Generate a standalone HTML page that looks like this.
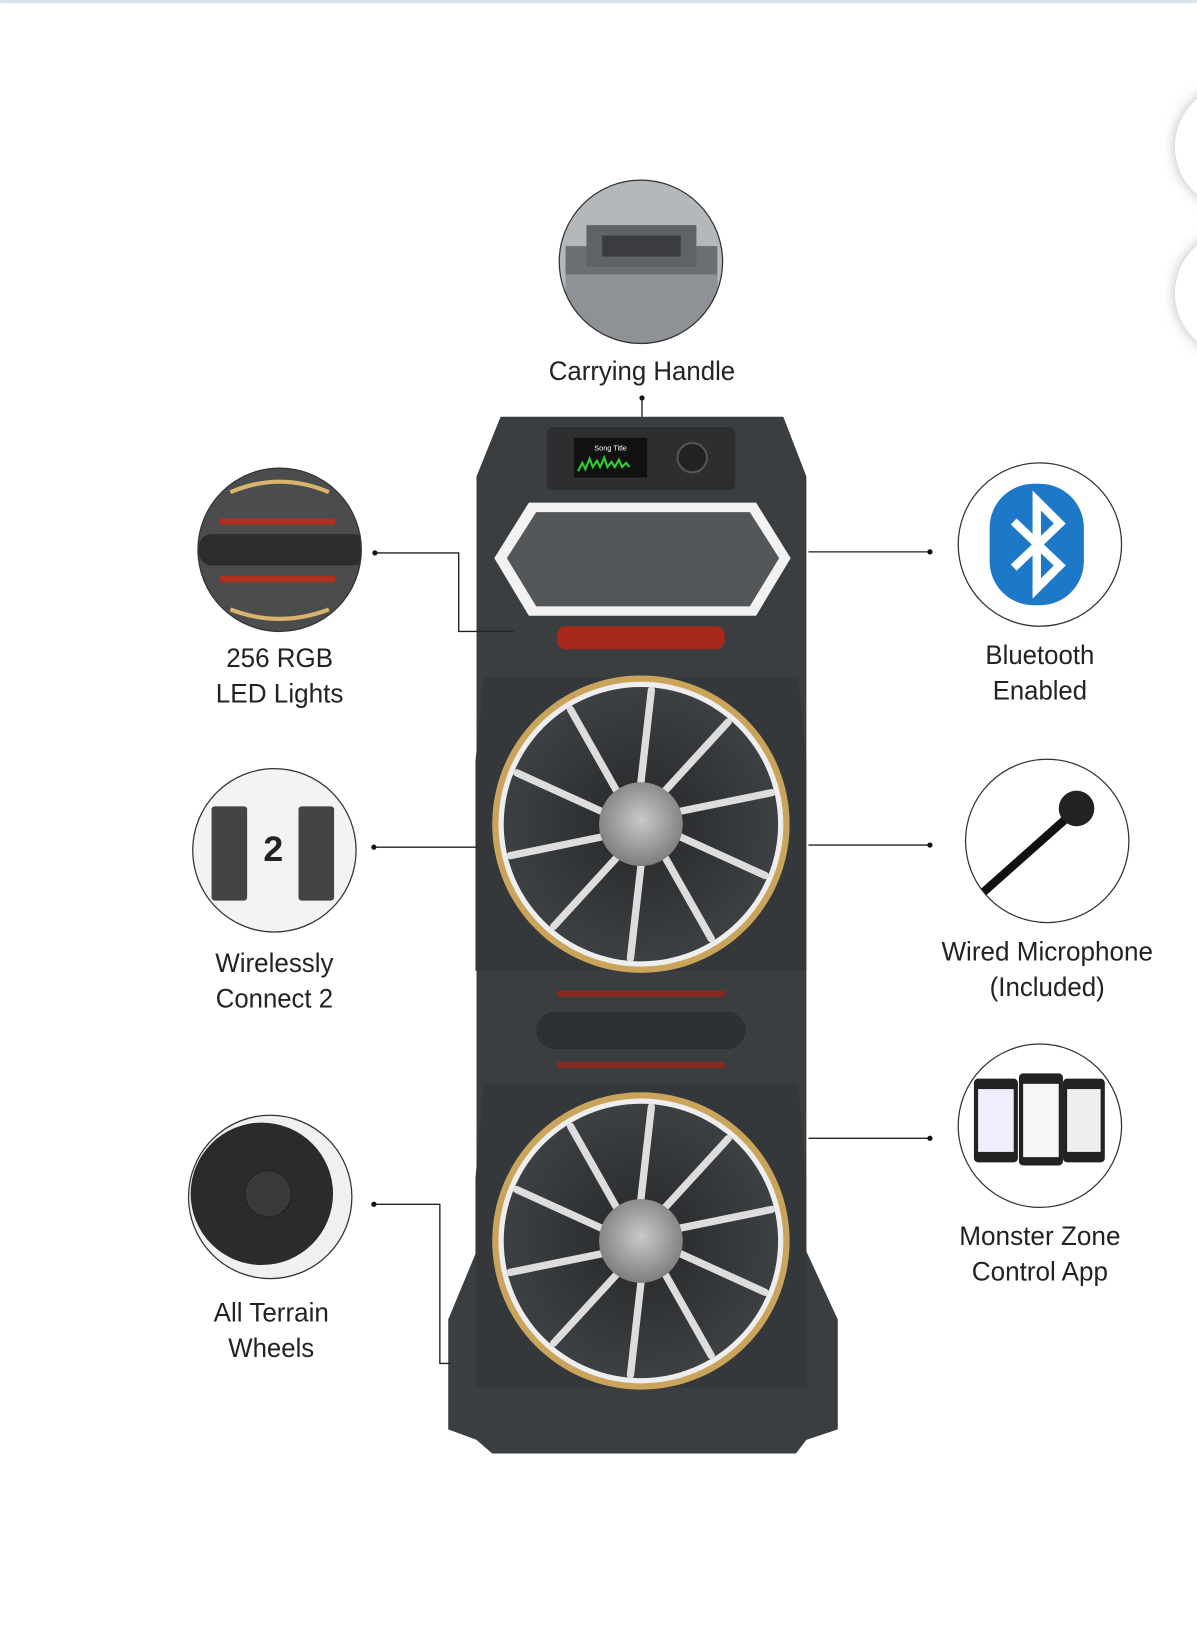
<!DOCTYPE html>
<html><head><style>html,body{margin:0;padding:0;background:#fff}svg{display:block}</style></head><body>
<svg width="1197" height="1642" viewBox="0 0 1143 1568" xmlns="http://www.w3.org/2000/svg" font-family="Liberation Sans, sans-serif">
<defs>
<filter id="sh" x="-50%" y="-50%" width="200%" height="200%"><feGaussianBlur stdDeviation="5"/></filter>
<radialGradient id="hub" cx="50%" cy="45%" r="60%"><stop offset="0" stop-color="#c9c9c9"/><stop offset="1" stop-color="#777"/></radialGradient>
<radialGradient id="cone" cx="50%" cy="50%" r="50%"><stop offset="0.2" stop-color="#2a2c2e"/><stop offset="1" stop-color="#3d4043"/></radialGradient>
<clipPath id="c1"><circle cx="612" cy="250" r="78"/></clipPath>
<clipPath id="c2"><circle cx="267" cy="525" r="78"/></clipPath>
<clipPath id="c3"><circle cx="262" cy="812" r="78"/></clipPath>
<clipPath id="c4"><circle cx="258" cy="1143" r="78"/></clipPath>
<clipPath id="c5"><circle cx="993" cy="520" r="78"/></clipPath>
<clipPath id="c6"><circle cx="1000" cy="803" r="78"/></clipPath>
<clipPath id="c7"><circle cx="993" cy="1075" r="78"/></clipPath>
</defs>
<rect width="1143" height="3" fill="#dde3ea"/>
<circle cx="1182" cy="140" r="62" fill="#ccc" filter="url(#sh)"/><circle cx="1182" cy="140" r="60" fill="#fff"/>
<circle cx="1182" cy="280" r="62" fill="#ccc" filter="url(#sh)"/><circle cx="1182" cy="280" r="60" fill="#fff"/>

<g>
<path d="M478 398 L748 398 L770 455 L770 1195 L800 1260 L800 1365 L770 1375 L760 1388 L470 1388 L455 1375 L428 1365 L428 1260 L455 1195 L455 455 Z" fill="#3b3e41"/>
<rect x="522" y="408" width="180" height="60" rx="6" fill="#2c2e30"/>
<rect x="548" y="418" width="70" height="38" fill="#111"/>
<text x="583" y="430" font-size="7" fill="#fff" text-anchor="middle">Song Title</text>
<path d="M552 450 l4 -8 l3 6 l4 -10 l3 8 l4 -6 l3 6 l4 -9 l3 9 l4 -5 l3 5 l4 -7 l3 7 l4 -4 l3 4" stroke="#3c3" fill="none" stroke-width="2"/>
<circle cx="661" cy="437" r="14" fill="#222" stroke="#555" stroke-width="2"/>
<path d="M505 480 L722 480 L755 533 L722 588 L505 588 L472 533 Z" fill="#f2f2f2"/>
<path d="M512 489 L716 489 L744 533 L716 579 L512 579 L484 533 Z" fill="#545759"/>
<rect x="532" y="598" width="160" height="22" rx="8" fill="#a8281c"/>
<g transform="translate(612,787)">
<path d="M-150 -140 L150 -140 L158 -60 L158 140 L-158 140 L-158 -60 Z" fill="#35383b"/>
<circle r="142" fill="#c9a45a"/><circle r="136" fill="#eee"/><circle r="131" fill="url(#cone)"/>
<g stroke="#ddd" stroke-width="7" stroke-linecap="round">
<line x1="0" y1="-40" x2="10" y2="-128"/><line x1="0" y1="-40" x2="10" y2="-128" transform="rotate(36)"/><line x1="0" y1="-40" x2="10" y2="-128" transform="rotate(72)"/><line x1="0" y1="-40" x2="10" y2="-128" transform="rotate(108)"/><line x1="0" y1="-40" x2="10" y2="-128" transform="rotate(144)"/><line x1="0" y1="-40" x2="10" y2="-128" transform="rotate(180)"/><line x1="0" y1="-40" x2="10" y2="-128" transform="rotate(216)"/><line x1="0" y1="-40" x2="10" y2="-128" transform="rotate(252)"/><line x1="0" y1="-40" x2="10" y2="-128" transform="rotate(288)"/><line x1="0" y1="-40" x2="10" y2="-128" transform="rotate(324)"/>
</g>
<circle r="40" fill="url(#hub)"/>
</g>
<rect x="532" y="946" width="160" height="6" fill="#8a2a1f"/>
<rect x="512" y="966" width="200" height="36" rx="18" fill="#2e3133"/>
<rect x="532" y="1014" width="160" height="6" fill="#8a2a1f"/>
<g transform="translate(612,1185)">
<path d="M-150 -150 L150 -150 L158 -60 L158 140 L-158 140 L-158 -60 Z" fill="#35383b"/>
<circle r="142" fill="#c9a45a"/><circle r="136" fill="#eee"/><circle r="131" fill="url(#cone)"/>
<g stroke="#ddd" stroke-width="7" stroke-linecap="round">
<line x1="0" y1="-40" x2="10" y2="-128"/><line x1="0" y1="-40" x2="10" y2="-128" transform="rotate(36)"/><line x1="0" y1="-40" x2="10" y2="-128" transform="rotate(72)"/><line x1="0" y1="-40" x2="10" y2="-128" transform="rotate(108)"/><line x1="0" y1="-40" x2="10" y2="-128" transform="rotate(144)"/><line x1="0" y1="-40" x2="10" y2="-128" transform="rotate(180)"/><line x1="0" y1="-40" x2="10" y2="-128" transform="rotate(216)"/><line x1="0" y1="-40" x2="10" y2="-128" transform="rotate(252)"/><line x1="0" y1="-40" x2="10" y2="-128" transform="rotate(288)"/><line x1="0" y1="-40" x2="10" y2="-128" transform="rotate(324)"/>
</g>
<circle r="40" fill="url(#hub)"/>
</g>
</g>

<g stroke="#222" stroke-width="1.3" fill="none">
<path d="M613 380 V398"/>
<path d="M358 528 H438 V603 H490"/>
<path d="M357 809 H455"/>
<path d="M357 1150 H420 V1302 H430"/>
<path d="M888 527 H772"/>
<path d="M888 807 H772"/>
<path d="M888 1087 H772"/>
</g>
<g fill="#111"><circle cx="613" cy="380" r="2.5"/><circle cx="358" cy="528" r="2.5"/><circle cx="357" cy="809" r="2.5"/><circle cx="357" cy="1150" r="2.5"/><circle cx="888" cy="527" r="2.5"/><circle cx="888" cy="807" r="2.5"/><circle cx="888" cy="1087" r="2.5"/></g>

<circle cx="612" cy="250" r="78" fill="#7d8185"/>
<circle cx="267" cy="525" r="78" fill="#4a4c4e"/>
<circle cx="262" cy="812" r="78" fill="#f3f3f3"/>
<circle cx="258" cy="1143" r="78" fill="#f0f0f0"/>
<circle cx="993" cy="520" r="78" fill="#fff"/>
<circle cx="1000" cy="803" r="78" fill="#fff"/>
<circle cx="993" cy="1075" r="78" fill="#fff"/>

<g clip-path="url(#c1)">
<rect x="530" y="170" width="170" height="160" fill="#b5b8bb"/>
<rect x="540" y="235" width="145" height="80" fill="#6b6f73"/>
<rect x="560" y="215" width="105" height="40" fill="#5f6367"/><rect x="575" y="225" width="75" height="20" fill="#3a3c3f"/>
<rect x="540" y="262" width="145" height="70" fill="#8e9296"/>
</g>
<g clip-path="url(#c2)">
<rect x="190" y="510" width="160" height="30" rx="12" fill="#2c2d2f"/>
<rect x="210" y="495" width="110" height="6" fill="#b0301f"/><rect x="210" y="550" width="110" height="6" fill="#b0301f"/>
<path d="M220 470 Q267 450 314 470" stroke="#d9b46a" stroke-width="4" fill="none"/><path d="M220 582 Q267 600 314 582" stroke="#d9b46a" stroke-width="4" fill="none"/>
</g>
<g clip-path="url(#c3)">
<rect x="202" y="770" width="34" height="90" rx="3" fill="#444"/><rect x="285" y="770" width="34" height="90" rx="3" fill="#444"/>
<text x="261" y="822" font-size="34" font-weight="bold" text-anchor="middle" fill="#222">2</text>
</g>
<g clip-path="url(#c4)">
<circle cx="250" cy="1140" r="68" fill="#2b2b2b"/><circle cx="256" cy="1140" r="22" fill="#3a3a3a" stroke="#222"/>
</g>
<g clip-path="url(#c5)">
<rect x="945" y="462" width="90" height="116" rx="42" fill="#1e78c8"/>
<path d="M968 498 L1012 540 L990 562 L990 478 L1012 500 L968 542" stroke="#fff" stroke-width="8" fill="none"/>
</g>
<g clip-path="url(#c6)">
<path d="M930 860 L1020 780" stroke="#111" stroke-width="8" stroke-linecap="round"/>
<circle cx="1028" cy="772" r="17" fill="#222"/>
<path d="M930 860 Q920 870 935 875" stroke="#111" stroke-width="3" fill="none"/>
</g>
<g clip-path="url(#c7)">
<rect x="930" y="1030" width="42" height="80" rx="4" fill="#222"/><rect x="973" y="1025" width="42" height="88" rx="4" fill="#222"/><rect x="1015" y="1030" width="40" height="80" rx="4" fill="#222"/>
<rect x="934" y="1040" width="34" height="60" fill="#eef"/><rect x="977" y="1035" width="34" height="70" fill="#f6f6f6"/><rect x="1019" y="1040" width="32" height="60" fill="#eee"/>
</g>
<g stroke="#333" stroke-width="1.2" fill="none">
<circle cx="612" cy="250" r="78"/><circle cx="267" cy="525" r="78"/><circle cx="262" cy="812" r="78"/><circle cx="258" cy="1143" r="78"/><circle cx="993" cy="520" r="78"/><circle cx="1000" cy="803" r="78"/><circle cx="993" cy="1075" r="78"/>
</g>

<g font-size="26" fill="#222" text-anchor="middle">
<text x="613" y="363" textLength="178" lengthAdjust="spacingAndGlyphs">Carrying Handle</text>
<text x="267" y="637" textLength="102" lengthAdjust="spacingAndGlyphs">256 RGB</text>
<text x="267" y="671" textLength="122" lengthAdjust="spacingAndGlyphs">LED Lights</text>
<text x="262" y="928" textLength="113" lengthAdjust="spacingAndGlyphs">Wirelessly</text>
<text x="262" y="962" textLength="112" lengthAdjust="spacingAndGlyphs">Connect 2</text>
<text x="259" y="1262" textLength="110" lengthAdjust="spacingAndGlyphs">All Terrain</text>
<text x="259" y="1296" textLength="82" lengthAdjust="spacingAndGlyphs">Wheels</text>
<text x="993" y="634" textLength="104" lengthAdjust="spacingAndGlyphs">Bluetooth</text>
<text x="993" y="668" textLength="90" lengthAdjust="spacingAndGlyphs">Enabled</text>
<text x="1000" y="917" textLength="202" lengthAdjust="spacingAndGlyphs">Wired Microphone</text>
<text x="1000" y="951" textLength="110" lengthAdjust="spacingAndGlyphs">(Included)</text>
<text x="993" y="1189" textLength="154" lengthAdjust="spacingAndGlyphs">Monster Zone</text>
<text x="993" y="1223" textLength="130" lengthAdjust="spacingAndGlyphs">Control App</text>
</g>
</svg>
</body></html>
